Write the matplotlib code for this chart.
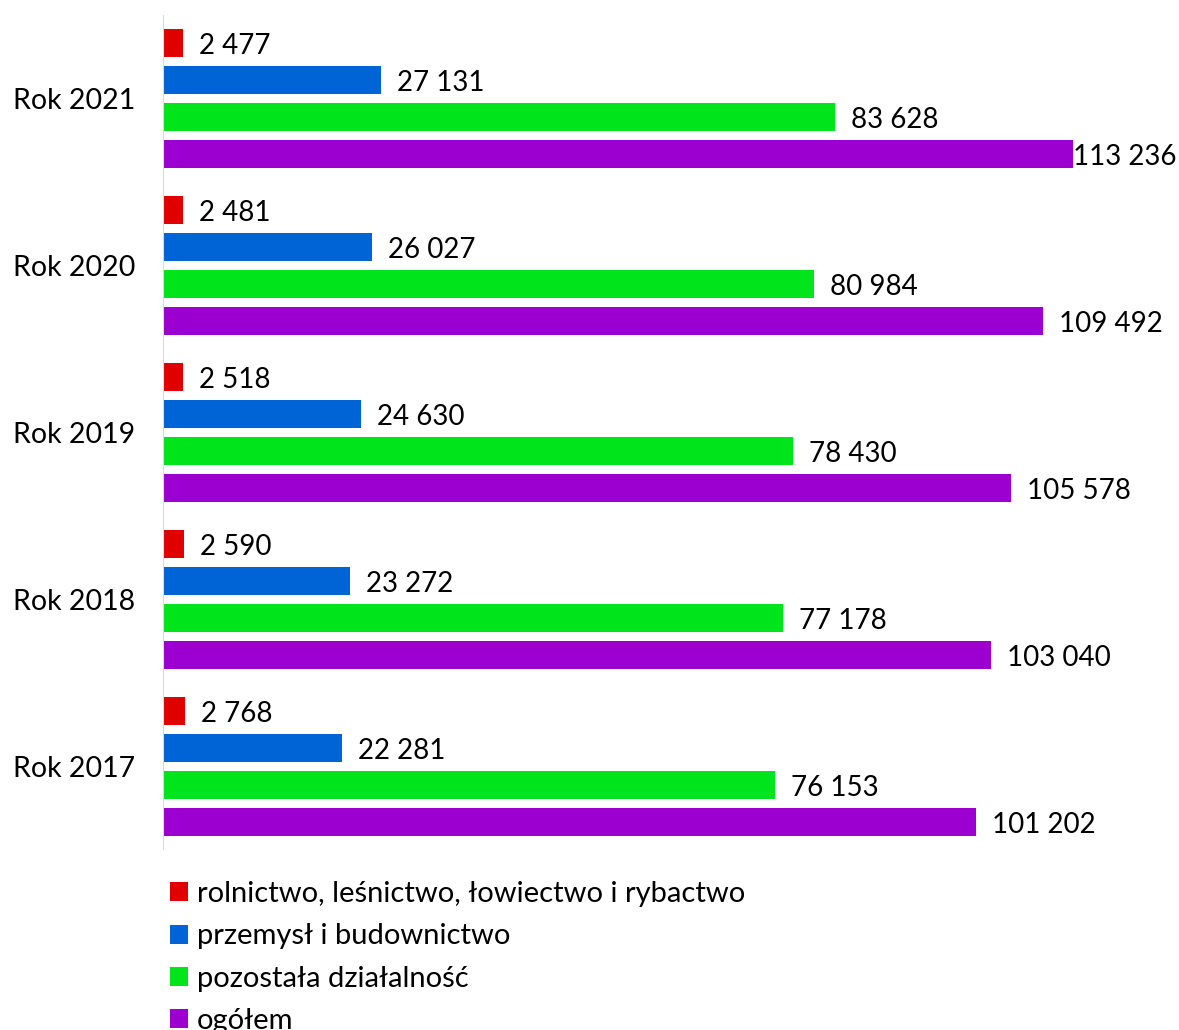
import matplotlib
matplotlib.use("Agg")
import matplotlib.pyplot as plt
from matplotlib.patches import Patch

plt.rcParams['font.family'] = ['Lato', 'DejaVu Sans']

# data
years = ['Rok 2021', 'Rok 2020', 'Rok 2019', 'Rok 2018', 'Rok 2017']
series = ['rolnictwo, leśnictwo, łowiectwo i rybactwo',
          'przemysł i budownictwo',
          'pozostała działalność',
          'ogółem']
rolnictwo = [2477, 2481, 2518, 2590, 2768]
przemysl = [27131, 26027, 24630, 23272, 22281]
pozostala = [83628, 80984, 78430, 77178, 76153]
ogolem = [113236, 109492, 105578, 103040, 101202]
colors = ['#E00000', '#0063D6', '#00E41B', '#9C00D0']

values = [rolnictwo, przemysl, pozostala, ogolem]

fig = plt.figure(figsize=(11.79, 10.30), dpi=100)
ax = fig.add_axes([163 / 1179, 180 / 1030, 1016 / 1179, 835 / 1030])

pitch = 0.2216
bar_h = 0.168
vmax = max(ogolem)
for k, (vals, col) in enumerate(zip(values, colors)):
    ys = [i + (k - 1.5) * pitch for i in range(len(years))]
    ax.barh(ys, vals, height=bar_h, color=col)
    for y, v in zip(ys, vals):
        label = f"{v:,}".replace(",", " ")
        off = 0 if v == vmax else 16
        ax.annotate(label, (v, y), xytext=(off, -3), textcoords='offset pixels',
                    va='center', ha='left', fontsize=20)

ax.set_xlim(0, 126430)
ax.set_ylim(len(years) - 0.5, -0.5)
ax.set_yticks(range(len(years)))
ax.set_yticklabels(years, fontsize=20.5)
ax.tick_params(axis='y', length=0, pad=20)
ax.set_xticks([])
for s in ['top', 'right', 'bottom', 'left']:
    ax.spines[s].set_visible(False)
# light grey category axis line
ax.axvline(0, color='#D9D9D9', linewidth=1.5)

handles = [Patch(facecolor=c, edgecolor='none') for c in colors]
fig.legend(handles, series, loc='upper left', bbox_to_anchor=(170 / 1179, 1 - 881 / 1030),
           frameon=False, fontsize=21, handlelength=0.62, handleheight=0.62,
           handletextpad=0.3, labelspacing=0.56, borderpad=0, borderaxespad=0)

plt.savefig('out.png', dpi=100)
